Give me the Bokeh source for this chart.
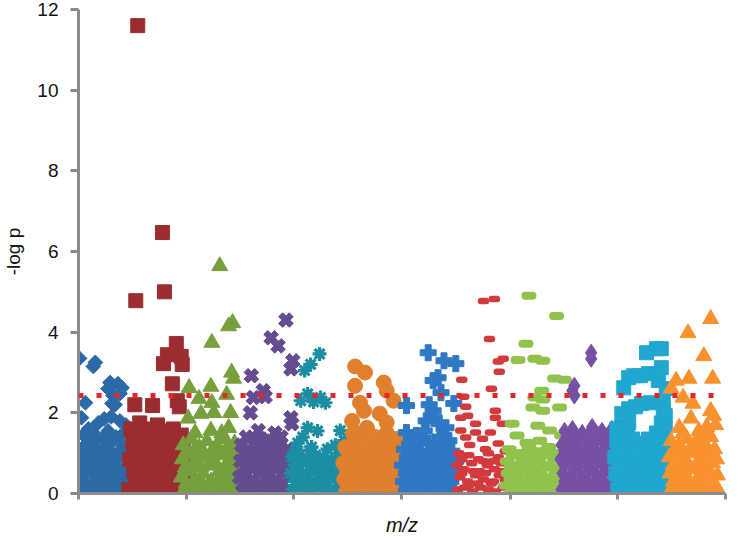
import math
from bokeh.plotting import figure
from bokeh.models import Span, FixedTicker
from bokeh.embed import file_html
from bokeh.resources import INLINE

# m/z position (arbitrary units along axis) and -log p values, per compound class
g1 = [(1,3.35),(15,3.15),(17,3.25),(32,2.75),(40,2.72),(30,2.6),(44,2.62),(35,2.43),(42,2.48),(7,2.25),(34,2.23),(37,2.2),(3,1.88),
      (10,1.6),(20,1.75),(26,1.85),(33,1.9),(42,1.8),(48,1.7),(5,1.45),(15,1.5),(24,1.35),(30,1.55),(38,1.4),(46,1.5),(12,1.25),
      (3,1.0),(10,0.95),(18,1.1),(27,1.15),(35,1.0),(44,1.1),(50,0.9),(22,0.85),(2,0.7),(8,0.6),(16,0.75),(24,0.55),(31,0.7),
      (40,0.6),(48,0.65),(1,0.1),(6,0.3),(12,0.15),(19,0.35),(26,0.1),(33,0.3),(40,0.15),(47,0.35),(50,0.1),(15,0.05),(36,0.05),
      (5,0.45),(14,0.5),(21,0.6),(28,0.4),(37,0.45),(44,0.5),(4,0.85),(13,0.75),(20,0.95),(30,0.9),(40,0.85),(47,0.95),
      (7,1.2),(17,1.35),(34,1.3),(42,1.25),(9,0.05),(22,0.25),(29,0.2),(43,0.25)]
g2 = [(60,11.6),(85,6.47),(87,5.0),(58,4.78),(99,3.72),(90,3.44),(86,3.22),(104,3.4),(105,3.2),(95,2.72),(57,2.2),(75,2.18),(100,2.3),(102,2.15),
      (53,1.6),(62,1.75),(70,1.6),(80,1.7),(88,1.55),(96,1.6),(104,1.45),(55,1.3),(64,1.4),(72,1.2),(82,1.35),(92,1.3),(100,1.1),(106,1.25),(60,1.05),
      (52,0.85),(60,0.7),(68,0.9),(76,0.75),(84,0.95),(90,0.6),(97,0.8),(106,0.7),
      (51,0.1),(58,0.35),(66,0.15),(73,0.4),(80,0.1),(88,0.3),(95,0.1),(102,0.35),(107,0.05),(62,0.0),(85,0.45),
      (56,0.55),(64,0.5),(71,0.6),(78,0.5),(86,0.6),(93,0.45),(100,0.55),(106,0.4),(56,1.1),(67,1.2),(77,1.0),(86,1.15),
      (95,1.05),(103,0.9),(72,0.2),(92,0.25),(57,1.5),(66,1.55),(76,1.45),(85,1.4),(93,1.45),(100,1.35)]
g3 = [(143,5.64),(156,4.23),(152,4.15),(135,3.74),(155,3.0),(157,2.85),(112,2.62),(134,2.65),(150,2.45),(122,2.35),(135,2.25),(111,1.86),(124,1.98),
      (137,2.0),(154,2.0),(134,1.56),(152,1.63),
      (106,1.2),(114,1.35),(122,1.15),(130,1.3),(140,1.2),(148,1.35),(158,1.25),(118,1.5),(145,1.5),
      (105,0.85),(112,0.95),(120,0.8),(128,0.9),(136,0.75),(144,0.95),(152,0.8),(160,0.9),
      (104,0.4),(110,0.55),(118,0.35),(126,0.5),(134,0.3),(142,0.55),(150,0.4),(158,0.5),(162,0.3),
      (106,0.05),(114,0.15),(122,0.0),(130,0.15),(138,0.05),(146,0.1),(154,0.0),(161,0.1),
      (108,0.65),(116,0.7),(124,0.65),(132,0.7),(140,0.7),(148,0.65),(156,0.7),(110,1.05),(118,1.1),(126,1.05),(134,1.0),
      (142,1.05),(150,1.1),(158,1.05),(109,0.25),(117,0.2),(125,0.25),(133,0.2),(141,0.3),(149,0.2),(157,0.25)]
g4 = [(210,4.3),(195,3.86),(202,3.66),(217,3.29),(215,3.09),(175,2.92),(187,2.55),(177,2.38),(189,2.4),(174,2.0),(215,1.88),(216,1.73),(199,1.5),(182,1.56),(177,1.39),
      (165,1.2),(172,1.1),(180,1.25),(188,1.15),(196,1.3),(204,1.2),(212,1.1),
      (164,0.8),(170,0.9),(178,0.75),(186,0.85),(194,0.9),(202,0.8),(210,0.9),
      (163,0.4),(169,0.5),(176,0.35),(184,0.5),(192,0.45),(200,0.35),(208,0.5),(214,0.4),
      (166,0.05),(174,0.1),(182,0.0),(190,0.1),(198,0.05),(206,0.1),(213,0.05),
      (168,0.65),(176,0.6),(184,0.7),(192,0.65),(200,0.6),(208,0.7),(214,0.75),(168,1.0),(176,0.95),(184,1.05),(192,1.0),
      (200,1.05),(208,1.0),(167,0.25),(175,0.2),(183,0.25),(191,0.3),(199,0.2),(207,0.25),(170,1.4),(185,1.35),(205,1.4)]
g5 = [(244,3.46),(235,3.2),(229,3.05),(232,2.47),(245,2.38),(225,2.3),(250,2.25),(238,2.27),(232,1.63),(242,1.55),(227,1.4),(234,1.07),(265,1.56),(269,1.31),(222,1.25),
      (216,0.9),(224,0.95),(232,0.85),(240,0.95),(248,0.9),(256,0.85),(264,1.0),(270,0.9),
      (215,0.5),(222,0.55),(230,0.45),(238,0.6),(246,0.5),(254,0.55),(262,0.45),(270,0.55),
      (217,0.1),(225,0.15),(233,0.05),(241,0.15),(249,0.1),(257,0.05),(265,0.15),(272,0.1),
      (219,0.7),(227,0.75),(235,0.7),(243,0.75),(251,0.7),(259,0.7),(267,0.75),(219,0.3),(227,0.35),(235,0.3),(243,0.35),
      (251,0.3),(259,0.35),(267,0.3),(220,1.1),(236,1.15),(252,1.1),(260,1.2),(268,1.15)]
g6 = [(280,3.15),(290,3.0),(280,2.67),(309,2.75),(312,2.55),(319,2.3),(285,2.25),(289,2.05),(277,1.8),(305,1.98),(292,1.63),(312,1.76),(312,1.5),(284,1.48),(300,1.4),(322,1.35),
      (270,1.15),(278,1.25),(286,1.1),(294,1.2),(302,1.15),(310,1.25),(318,1.1),(326,1.2),
      (268,0.75),(276,0.85),(284,0.7),(292,0.85),(300,0.75),(308,0.8),(316,0.7),(324,0.85),(331,0.7),
      (269,0.35),(277,0.4),(285,0.3),(293,0.45),(301,0.35),(309,0.4),(317,0.3),(325,0.45),(332,0.3),
      (271,0.05),(279,0.0),(287,0.1),(295,0.05),(303,0.0),(311,0.1),(319,0.05),(327,0.0),
      (272,0.55),(280,0.6),(288,0.5),(296,0.6),(304,0.55),(312,0.6),(320,0.5),(328,0.6),(274,0.95),(282,1.0),(290,0.95),
      (298,1.0),(306,0.95),(314,1.0),(322,0.95),(330,1.0),(273,0.2),(281,0.2),(289,0.25),(297,0.2),(305,0.2),(313,0.25),
      (321,0.2),(329,0.15),(296,1.45),(278,1.5)]
g7 = [(354,3.49),(370,3.29),(382,3.22),(364,2.87),(359,2.8),(367,2.5),(332,2.18),(380,2.23),(355,2.2),(359,2.05),(360,1.88),(352,1.8),(365,1.73),(332,1.51),(342,1.44),(372,1.63),(375,1.31),
      (330,1.1),(338,1.2),(346,1.05),(354,1.25),(362,1.1),(370,1.15),(378,1.05),
      (328,0.7),(336,0.8),(344,0.65),(352,0.85),(360,0.75),(368,0.8),(376,0.7),(382,0.8),
      (329,0.3),(337,0.4),(345,0.25),(353,0.45),(361,0.3),(369,0.4),(377,0.3),
      (332,0.05),(340,0.0),(348,0.1),(356,0.05),(364,0.0),(372,0.1),(380,0.05),
      (332,0.5),(340,0.55),(348,0.45),(356,0.6),(364,0.5),(372,0.55),(380,0.5),(333,0.9),(341,0.95),(349,0.9),(357,1.0),
      (365,0.9),(373,0.95),(381,0.9),(333,0.15),(341,0.2),(349,0.25),(357,0.2),(365,0.15),(373,0.2),(342,1.35),(366,1.4),(350,1.55)]
g8 = [(410,4.77),(421,4.82),(416,3.83),(425,3.27),(430,3.34),(426,3.02),(388,2.82),(418,2.6),(390,2.4),(392,2.15),(422,2.05),(387,1.88),(394,1.93),(402,1.73),
      (422,1.88),(429,1.73),(402,1.51),(387,1.56),(392,1.39),(409,1.36),(417,1.51),(425,1.24),(396,1.2),(412,1.1),
      (385,1.0),(395,0.95),(405,0.85),(415,1.0),(425,0.9),(432,1.05),
      (383,0.7),(390,0.6),(398,0.75),(406,0.55),(414,0.7),(421,0.6),(428,0.75),
      (386,0.4),(394,0.3),(402,0.45),(410,0.35),(418,0.25),(426,0.45),(432,0.35),
      (384,0.1),(391,0.15),(399,0.05),(407,0.15),(415,0.1),(422,0.05),(430,0.15),
      (388,0.85),(400,0.55),(410,0.8),(420,0.3),(430,0.55),(395,0.2),(412,0.5),(388,0.5),(420,0.8),(404,0.25)]
g9 = [(456,4.9),(484,4.4),(453,3.71),(445,3.31),(462,3.34),(470,3.29),(482,2.85),(492,2.82),(469,2.55),(462,2.38),(470,2.33),(460,2.13),(470,2.05),(487,2.13),
      (439,1.73),(465,1.68),(477,1.56),(444,1.44),(489,1.44),(467,1.31),(454,1.26),
      (436,1.1),(446,1.0),(456,1.15),(466,1.05),(476,1.15),(486,1.0),
      (434,0.8),(442,0.7),(450,0.85),(458,0.75),(466,0.8),(474,0.7),(482,0.85),(490,0.75),
      (435,0.5),(443,0.4),(451,0.55),(459,0.45),(467,0.5),(475,0.4),(483,0.55),(491,0.45),
      (433,0.2),(441,0.1),(449,0.25),(457,0.15),(465,0.2),(473,0.1),(481,0.25),(489,0.15),
      (437,0.0),(453,0.0),(469,0.0),(485,0.0),(445,0.6),(470,0.95),(480,0.3),
      (438,0.35),(446,0.3),(454,0.35),(462,0.3),(470,0.35),(478,0.3),(486,0.35),(438,0.65),(454,0.65),(462,0.6),(478,0.65),
      (486,0.6),(440,0.95),(450,1.0),(460,0.95),(480,1.0),(490,0.95),(447,0.05),(461,0.05),(477,0.05),(491,0.05)]
g10 = [(519,3.49),(519,3.34),(502,2.67),(502,2.43),(500,2.55),
       (492,1.55),(500,1.6),(510,1.5),(520,1.65),(530,1.55),(540,1.6),(546,1.7),
       (489,1.2),(497,1.3),(505,1.15),(513,1.3),(521,1.2),(529,1.35),(537,1.25),(545,1.3),
       (488,0.85),(496,0.9),(504,0.8),(512,0.95),(520,0.85),(528,0.9),(536,0.8),(544,0.95),
       (490,0.5),(498,0.45),(506,0.55),(514,0.45),(522,0.55),(530,0.45),(538,0.55),(546,0.5),
       (489,0.1),(497,0.15),(505,0.05),(513,0.15),(521,0.1),(529,0.05),(537,0.15),(545,0.1),
       (492,0.3),(500,0.3),(508,0.3),(516,0.3),(524,0.3),(532,0.3),(540,0.3),(492,0.7),(500,0.7),(508,0.7),(516,0.7),
       (524,0.7),(532,0.7),(540,0.7),(492,1.05),(500,1.05),(508,1.0),(516,1.05),(524,1.05),(532,1.1),(540,1.05),
       (494,1.4),(505,1.4),(516,1.45),(526,1.45),(535,1.4),(544,1.5)]
g11 = [(585,3.59),(590,3.59),(575,3.49),(590,3.12),(577,2.97),(569,2.92),(557,2.87),(562,2.92),(552,2.62),(587,2.8),(595,2.6),
       (557,2.1),(564,2.15),(570,2.23),(579,2.25),(592,2.23),(594,1.93),(550,1.98),(557,1.76),(545,1.6),(594,1.6),
       (545,1.3),(553,1.2),(561,1.35),(569,1.25),(577,1.35),(585,1.2),(593,1.3),
       (543,0.9),(551,0.85),(559,0.95),(567,0.8),(575,0.95),(583,0.85),(591,0.9),(597,0.8),
       (544,0.5),(552,0.45),(560,0.55),(568,0.4),(576,0.55),(584,0.45),(592,0.5),
       (546,0.1),(554,0.05),(562,0.15),(570,0.05),(578,0.15),(586,0.05),(594,0.1),
       (547,0.7),(555,0.65),(563,0.7),(571,0.65),(579,0.7),(587,0.65),(595,0.7),(547,0.3),(555,0.3),(563,0.35),(571,0.25),
       (579,0.3),(587,0.3),(595,0.3),(547,1.1),(555,1.05),(563,1.1),(571,1.05),(579,1.1),(587,1.05),(595,1.1),
       (549,1.45),(556,1.55),(585,1.5),(590,1.75),(592,2.0)]
g12 = [(640,4.33),(617,3.98),(633,3.41),(618,2.85),(642,2.85),(605,2.8),(612,2.38),(622,2.23),(640,2.05),(643,1.93),(608,1.63),(620,1.86),(633,1.48),(600,2.6),(645,1.7),
       (600,1.3),(608,1.2),(616,1.35),(624,1.25),(632,1.3),(640,1.4),
       (598,0.9),(606,0.95),(614,0.85),(622,1.0),(630,0.9),(638,0.95),(646,0.85),
       (599,0.5),(607,0.55),(615,0.45),(623,0.6),(631,0.5),(639,0.55),(647,0.45),
       (600,0.1),(608,0.15),(616,0.05),(624,0.15),(632,0.1),(640,0.05),(646,0.15),
       (602,0.7),(610,0.75),(618,0.7),(626,0.75),(634,0.7),(642,0.75),(602,0.3),(610,0.35),(618,0.3),(626,0.35),(634,0.3),
       (642,0.3),(604,1.1),(612,1.05),(620,1.15),(628,1.1),(636,1.15),(644,1.1),(612,1.5),(628,1.55),(636,1.65)]

threshold = 2.43
x_ticks = [0, 109, 218, 327, 437, 546, 655]
y_ticks = [0, 2, 4, 6, 8, 10, 12]

p = figure(width=734, height=540, output_backend="svg", toolbar_location=None,
           x_range=(0, 655), y_range=(0, 12),
           min_border_left=70, min_border_right=9, min_border_top=9, min_border_bottom=47)
p.outline_line_color = None
p.xgrid.grid_line_color = None
p.ygrid.grid_line_color = None
p.background_fill_color = "white"

def xy(g):
    return [a for a, b in g], [b for a, b in g]

styles = [
    (g1, dict(marker="square", size=10.5, angle=math.pi/4, fill_color="#2c6aa7", line_color="#2c6aa7")),
    (g2, dict(marker="square", size=14, fill_color="#9b2d30", line_color="#9b2d30")),
    (g3, dict(marker="triangle", size=16, fill_color="#77a03c", line_color="#77a03c")),
    (g4, dict(marker="plus", size=15, angle=math.pi/4, fill_color="#654b8f", line_color="#654b8f")),
    (g5, dict(marker="asterisk", size=14, line_width=3.2, line_color="#1c8ea3")),
    (g6, dict(marker="circle", size=15, fill_color="#e07f2c", line_color="#e07f2c")),
    (g7, dict(marker="plus", size=16, fill_color="#2e78c4", line_color="#2e78c4")),
    (g8, dict(marker="dash", size=5, line_width=6.5, line_cap="round", line_color="#d23a3d")),
    (g9, dict(marker="dash", size=7, line_width=8, line_cap="round", line_color="#91c24c")),
    (g10, dict(marker="diamond", size=17, fill_color="#7550a5", line_color="#7550a5")),
    (g11, dict(marker="square", size=14, fill_color="#1fa7cf", line_color="#1fa7cf")),
    (g12, dict(marker="triangle", size=16, fill_color="#f7922f", line_color="#f7922f")),
]
for g, kw in styles:
    xs, ys = xy(g)
    p.scatter(xs, ys, **kw)

p.add_layout(Span(location=threshold, dimension="width", line_color="#e8262a",
                  line_width=5, line_dash="5 13"))

axis_color = "#8c8c8c"
for ax in (p.xaxis[0], p.yaxis[0]):
    ax.axis_line_color = axis_color
    ax.axis_line_width = 3
    ax.major_tick_line_color = axis_color
    ax.major_tick_line_width = 3
    ax.major_tick_in = 0
    ax.axis_label_text_font = "Liberation Sans"
    ax.axis_label_text_font_style = "normal"
    ax.axis_label_text_color = "#111111"
    ax.major_label_text_font = "Liberation Sans"
    ax.major_label_text_color = "#111111"

p.yaxis.ticker = FixedTicker(ticks=y_ticks)
p.yaxis.minor_tick_line_color = None
p.yaxis.major_tick_out = 8
p.yaxis.major_label_text_font_size = "19px"
p.yaxis.major_label_standoff = 12
p.yaxis.axis_label = "-log p"
p.yaxis.axis_label_text_font_size = "19px"
p.yaxis.axis_label_standoff = 10

# x axis: tick marks only, no tick labels (minor ticks carry no labels)
p.xaxis.ticker = FixedTicker(ticks=[], minor_ticks=x_ticks)
p.xaxis.minor_tick_line_color = axis_color
p.xaxis.minor_tick_line_width = 3
p.xaxis.minor_tick_in = 0
p.xaxis.minor_tick_out = 6
p.xaxis.axis_label = "m/z"
p.xaxis.axis_label_text_font_style = "italic"
p.xaxis.axis_label_text_font_size = "20px"
p.xaxis.axis_label_standoff = 14

open("out.html", "w").write(file_html(p, INLINE))
